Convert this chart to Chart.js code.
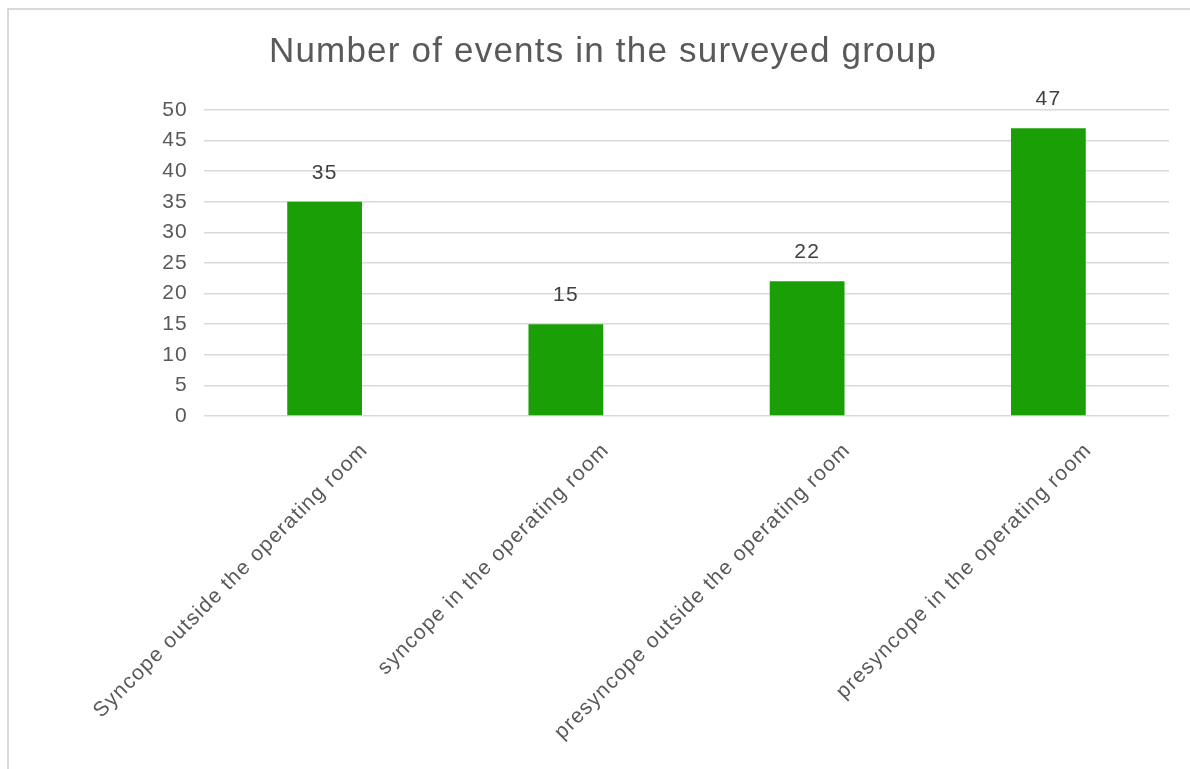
<!DOCTYPE html>
<html>
<head>
<meta charset="utf-8">
<script src="https://cdn.jsdelivr.net/npm/chart.js@4"></script>
<style>
  html, body { margin: 0; padding: 0; background: #fff; }
  body { width: 1190px; height: 769px; position: relative; overflow: hidden; }
  .frame {
    position: absolute; left: 7px; top: 8px; width: 1200px; height: 800px;
    border-top: 2px solid #d9d9d9; border-left: 2px solid #d9d9d9;
  }
  #eventsChart { position: absolute; left: 0; top: 0; }
</style>
</head>
<body>
<div class="frame"></div>
<canvas id="eventsChart" width="1190" height="769"></canvas>
<script>
// Events per category
const categories = [
    'Syncope outside the operating room',
    'syncope in the operating room',
    'presyncope outside the operating room',
    'presyncope in the operating room'
];
const eventCounts = [35, 15, 22, 47];
const yTicks = [0, 5, 10, 15, 20, 25, 30, 35, 40, 45, 50];

const fontFamily = "'Liberation Sans', Arial, sans-serif";
const textSpacing = '1.2px';

// Slightly wider text spacing for every label on the canvas
const wideText = {
    id: 'wideText',
    beforeLayout(chart) { chart.ctx.letterSpacing = textSpacing; },
    beforeDraw(chart) { chart.ctx.letterSpacing = textSpacing; }
};

// Value labels above each bar
const barValueLabels = {
    id: 'barValueLabels',
    afterDatasetsDraw(chart) {
        const ctx = chart.ctx;
        const meta = chart.getDatasetMeta(0);
        ctx.save();
        ctx.font = '21px ' + fontFamily;
        ctx.fillStyle = '#404040';
        ctx.textAlign = 'center';
        ctx.textBaseline = 'middle';
        meta.data.forEach((bar, i) => {
            ctx.fillText(String(eventCounts[i]), bar.x, bar.y - 29);
        });
        ctx.restore();
    }
};

const ctx1 = document.getElementById('eventsChart').getContext('2d');
new Chart(ctx1, {
    type: 'bar',
    data: {
        labels: categories,
        datasets: [{
            label: 'Events',
            data: eventCounts,
            backgroundColor: '#1aa006',
            borderWidth: 0,
            categoryPercentage: 1,
            barPercentage: 0.31
        }]
    },
    options: {
        responsive: false,
        animation: false,
        layout: {
            padding: { left: 37, right: 21, top: 0, bottom: 0 }
        },
        plugins: {
            legend: { display: false },
            tooltip: { enabled: false },
            title: {
                display: true,
                text: 'Number of events in the surveyed group',
                color: '#595959',
                font: { family: fontFamily, size: 35, weight: 'normal' },
                padding: { top: 31, bottom: 37 }
            }
        },
        scales: {
            x: {
                grid: { display: false, drawTicks: false },
                border: { display: false },
                ticks: {
                    color: '#595959',
                    font: { family: fontFamily, size: 21 },
                    minRotation: 45,
                    maxRotation: 45,
                    autoSkip: false,
                    padding: 22,
                    labelOffset: 40
                },
                afterFit(scale) {
                    scale.height = 769 - 416;
                }
            },
            y: {
                min: 0,
                max: 50,
                afterBuildTicks(scale) {
                    scale.ticks = yTicks.map(v => ({ value: v }));
                },
                grid: { color: '#d9d9d9', lineWidth: 1.5, drawTicks: false },
                border: { display: false },
                ticks: {
                    color: '#595959',
                    font: { family: fontFamily, size: 21 },
                    padding: 16
                },
                afterFit(scale) {
                    scale.width = 204 - 37;
                }
            }
        }
    },
    plugins: [wideText, barValueLabels]
});
</script>
</body>
</html>
